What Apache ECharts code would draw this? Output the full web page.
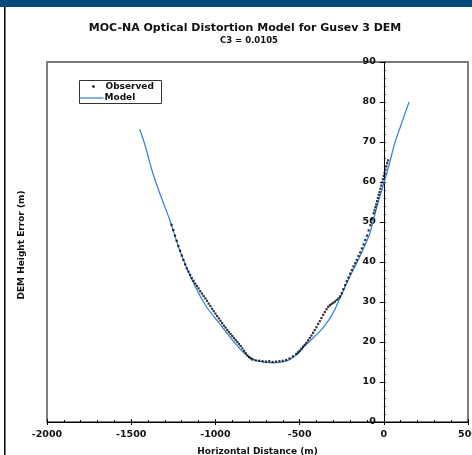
<!DOCTYPE html>
<html>
<head>
<meta charset="utf-8">
<script src="https://cdn.jsdelivr.net/npm/echarts@6/dist/echarts.min.js"></script>
<style>
html,body{margin:0;padding:0;background:#fff;}
#chart{width:472px;height:455px;}
</style>
</head>
<body>
<div id="chart"></div>
<script>
// ---- data ----
var titleText = 'MOC-NA Optical Distortion Model for Gusev 3 DEM';
var subtitleText = 'C3 = 0.0105';
var xAxisName = 'Horizontal Distance (m)';
var yAxisName = 'DEM Height Error (m)';
var legendNames = ['Observed', 'Model'];

var modelX = [-1450, -1420, -1370, -1320, -1271, -1212, -1133, -1053, -974, -895, -836, -796, -756, -700, -658, -600, -558, -500, -479, -440, -400, -360, -320, -290, -261, -202, -143, -83, -43, 6, 30, 65, 100, 150];
var modelY = [73.2, 69.5, 62, 56, 50.5, 43, 35, 28.8, 24.5, 20.3, 17.5, 16.2, 15.3, 14.9, 14.8, 15.0, 15.6, 17.5, 18.6, 20.2, 21.8, 23.6, 25.9, 28.2, 30.9, 36.3, 41.3, 47.2, 53.5, 60.5, 64, 69.7, 74, 80];

var obsX = [-1260, -1250, -1240, -1230, -1220, -1210, -1200, -1190, -1180, -1170, -1160, -1150, -1140, -1130, -1120, -1110, -1100, -1090, -1080, -1070, -1060, -1050, -1040, -1030, -1020, -1010, -1000, -990, -980, -970, -960, -950, -940, -930, -920, -910, -900, -890, -880, -870, -860, -850, -840, -830, -820, -810, -800, -790, -780,
  -760, -740, -720, -700, -680, -660, -640, -620, -600, -580, -560, -540, -520,
  -510, -500, -490, -480, -470, -460, -450, -440, -430, -420, -410, -400, -390, -380, -370, -360, -350, -340, -330, -320, -310, -300, -290, -280, -270, -260,
  -250, -240, -230, -220, -210, -200, -190, -180, -170, -160, -150, -140, -130, -120, -110, -100, -90, -80, -70, -60,
  -55, -50, -45, -40, -35, -30, -25, -20, -15, -10, -5, 0, 5, 10, 15, 20, 25];
var obsY = [49.3, 48.0, 46.6, 45.3, 44.0, 42.8, 41.6, 40.5, 39.4, 38.4, 37.6, 36.8, 36.0, 35.3, 34.6, 34.0, 33.4, 32.7, 32.1, 31.5, 30.9, 30.3, 29.6, 29.0, 28.3, 27.7, 27.1, 26.5, 25.9, 25.3, 24.7, 24.1, 23.6, 23.0, 22.5, 22.0, 21.5, 21.0, 20.5, 20.0, 19.5, 19.0, 18.4, 17.8, 17.2, 16.6, 16.2, 15.9, 15.6,
  15.4, 15.3, 15.2, 15.1, 15.2, 15.0, 15.1, 15.2, 15.3, 15.5, 15.9, 16.4, 17.0,
  17.4, 17.8, 18.3, 18.8, 19.3, 19.8, 20.4, 21.0, 21.6, 22.3, 23.0, 23.7, 24.5, 25.2, 26.0, 26.8, 27.5, 28.2, 28.8, 29.2, 29.5, 29.8, 30.1, 30.5, 30.9, 31.4,
  32.2, 33.2, 34.2, 35.2, 36.1, 37.1, 38.0, 38.9, 39.7, 40.5, 41.5, 42.4, 43.4, 44.4, 45.5, 46.6, 47.9, 49.2, 50.7, 52.2,
  52.9, 53.7, 54.4, 55.2, 56.0, 56.8, 57.5, 58.3, 59.1, 59.9, 60.7, 61.5, 62.3, 63.1, 63.9, 64.7, 65.4];

var xMin = -2000, xMax = 500, xStep = 500;
var yMin = 0, yMax = 90, yStep = 10;

// ---- build ----
function zip(a, b) { var r = []; for (var i = 0; i < a.length; i++) r.push([a[i], b[i]]); return r; }

var FONT = 'DejaVu Sans';
var W = 472, H = 455;
var G = { left: 47, right: 4, top: 62, bottom: 33 };
var plotW = W - G.left - G.right;
// y axis crosses at x = 0: shift it inward from the grid's left edge
var yAxisShift = -plotW * (0 - xMin) / (xMax - xMin);

var chart = echarts.init(document.getElementById('chart'), null, { renderer: 'canvas' });

var baseX = { type: 'value', min: xMin, max: xMax, interval: xStep };
var baseY = { type: 'value', min: yMin, max: yMax, interval: yStep };
var plainFmt = function (v) { return String(v); };

var option = {
  animation: false,
  backgroundColor: '#fff',
  title: [
    { text: titleText, left: 245, top: 23, textAlign: 'center', padding: 0,
      textStyle: { fontFamily: FONT, fontSize: 11, fontWeight: 'bold', color: '#111' } },
    { text: subtitleText, left: 249, top: 36, textAlign: 'center', padding: 0,
      textStyle: { fontFamily: FONT, fontSize: 8.5, fontWeight: 'bold', color: '#111' } }
  ],
  grid: { left: G.left, right: G.right, top: G.top, bottom: G.bottom, outerBoundsMode: 'none', containLabel: false,
    show: true, borderColor: '#000', borderWidth: 1, backgroundColor: 'transparent' },
  xAxis: [
    Object.assign({}, baseX, {
      position: 'bottom',
      name: xAxisName, nameLocation: 'middle', nameGap: 25,
      nameTextStyle: { fontFamily: FONT, fontSize: 9, fontWeight: 'bold', color: '#111' },
      axisLine: { onZero: false, lineStyle: { color: '#000', width: 1 } },
      axisTick: { inside: true, length: 3, lineStyle: { color: '#000' } },
      minorTick: { show: true, splitNumber: 5, length: 2, lineStyle: { color: '#000' } },
      axisLabel: { margin: 8, fontFamily: FONT, fontSize: 9.5, fontWeight: 'bold', color: '#111', formatter: plainFmt },
      splitLine: { show: false }
    }),
    Object.assign({}, baseX, {
      position: 'bottom',
      axisLine: { show: false, onZero: false },
      axisTick: { inside: false, length: 3, lineStyle: { color: '#000' } },
      axisLabel: { show: false },
      splitLine: { show: false }
    }),
    Object.assign({}, baseX, {
      position: 'top',
      axisLine: { show: true, onZero: false, lineStyle: { color: '#777', width: 2 } },
      axisTick: { show: false },
      axisLabel: { show: false },
      splitLine: { show: false }
    })
  ],
  yAxis: [
    Object.assign({}, baseY, {
      position: 'left', offset: yAxisShift,
      axisLine: { show: true, onZero: false, lineStyle: { color: '#000', width: 1 } },
      axisTick: { inside: true, length: 2, lineStyle: { color: '#000' } },
      minorTick: { show: true, splitNumber: 5, length: 2, lineStyle: { color: '#000' } },
      axisLabel: { margin: 8, fontFamily: FONT, fontSize: 9.5, fontWeight: 'bold', color: '#111', formatter: plainFmt },
      splitLine: { show: false }
    }),
    Object.assign({}, baseY, {
      position: 'left', offset: yAxisShift,
      axisLine: { show: false, onZero: false },
      axisTick: { inside: false, length: 4, lineStyle: { color: '#000' } },
      axisLabel: { show: false },
      splitLine: { show: false }
    })
  ],
  series: [
    { name: legendNames[1], type: 'line', xAxisIndex: 0, yAxisIndex: 0,
      data: zip(modelX, modelY), showSymbol: false, symbol: 'none', smooth: 0.3,
      lineStyle: { color: '#2a7de1', width: 1.2 }, z: 2 },
    { name: legendNames[0], type: 'scatter', xAxisIndex: 0, yAxisIndex: 0,
      data: zip(obsX, obsY), symbol: 'rect', symbolSize: 2.2,
      itemStyle: { color: '#000' }, z: 3 }
  ],
  graphic: [
    { type: 'rect', shape: { x: 0, y: 0, width: 472, height: 7 }, style: { fill: '#004a7c' }, silent: true },
    { type: 'rect', shape: { x: 4, y: 7, width: 1.6, height: 448 }, style: { fill: '#111' }, silent: true },
    { type: 'text', x: 22, y: 245, rotation: Math.PI / 2, silent: true,
      style: { text: yAxisName, font: 'bold 9px "DejaVu Sans"', fill: '#111', textAlign: 'center', textVerticalAlign: 'middle' } },
    { type: 'group', left: 77, top: 80, silent: true, children: [
      { type: 'rect', shape: { x: 0, y: 0, width: 82, height: 23 }, style: { fill: '#fff', stroke: '#333', lineWidth: 1 } },
      { type: 'circle', shape: { cx: 14, cy: 6, r: 1.3 }, style: { fill: '#000' } },
      { type: 'text', x: 26, y: 6, style: { text: legendNames[0], font: 'bold 9px "DejaVu Sans"', fill: '#111', textVerticalAlign: 'middle' } },
      { type: 'line', shape: { x1: 0, y1: 17.5, x2: 24, y2: 17.5 }, style: { stroke: '#2a7de1', lineWidth: 1.2 } },
      { type: 'text', x: 25, y: 17, style: { text: legendNames[1], font: 'bold 9px "DejaVu Sans"', fill: '#111', textVerticalAlign: 'middle' } }
    ] }
  ]
};
chart.setOption(option);
</script>
</body>
</html>
